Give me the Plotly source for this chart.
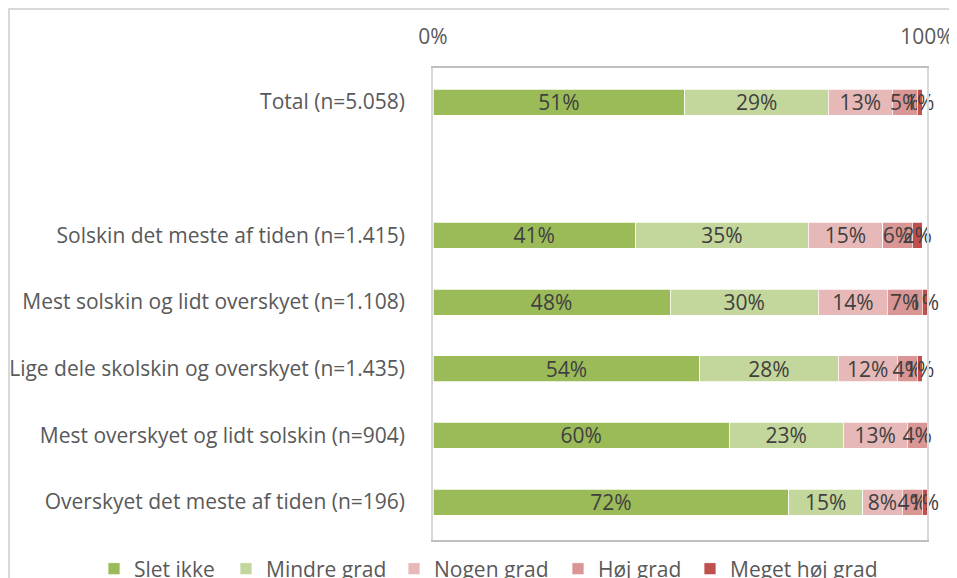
import plotly.graph_objects as go

categories = [
    "Total (n=5.058)",
    " ",
    "Solskin det meste af tiden (n=1.415)",
    "Mest solskin og lidt overskyet (n=1.108)",
    "Lige dele skolskin og overskyet (n=1.435)",
    "Mest overskyet og lidt solskin (n=904)",
    "Overskyet det meste af tiden (n=196)",
]
series_names = ["Slet ikke", "Mindre grad", "Nogen grad", "Høj grad", "Meget høj grad"]
slet_ikke = [51, None, 41, 48, 54, 60, 72]
mindre_grad = [29, None, 35, 30, 28, 23, 15]
nogen_grad = [13, None, 15, 14, 12, 13, 8]
hoej_grad = [5, None, 6, 7, 4, 4, 4]
meget_hoej_grad = [1, None, 2, 1, 1, 0.4, 1]
tick_vals = [0, 100]
tick_text = ["0%", "100%"]

colors = ["#9BBB59", "#C3D69B", "#E6B9B8", "#D99694", "#C0504D"]
series = [slet_ikke, mindre_grad, nogen_grad, hoej_grad, meget_hoej_grad]

FONT = "Open Sans, Noto Sans, sans-serif"
FS = 21

# page has an 8px body margin: figure origin sits at page (8, 8)
OFF = 8
W, H = 957 - OFF, 578 - OFF
# plot area in page pixels
PX0, PX1, PY0, PY1 = 433, 927, 68, 540
L, R, T, B = PX0 - OFF, W - (PX1 - OFF), PY0 - OFF, H - (PY1 - OFF)
pw, ph = W - L - R, H - T - B

def px_x(x):  # page px -> paper
    return (x - OFF - L) / pw

def px_y(y):
    return (H - B - (y - OFF)) / ph

legend_text_starts = [134, 266, 434, 598, 730]
legend_ids = ["legend", "legend2", "legend3", "legend4", "legend5"]

fig = go.Figure()
for si, (name, vals, col) in enumerate(zip(series_names, series, colors)):
    texts = []
    for i, v in enumerate(vals):
        if v is None or v < 0.5:
            texts.append("")
        else:
            texts.append(f"{round(v)}%")
    fig.add_trace(go.Bar(
        name=name, y=categories, x=vals, orientation="h",
        marker=dict(color=col, line=dict(color="white", width=0.75)),
        text=texts, textposition="inside", insidetextanchor="middle", textangle=0,
        textfont=dict(color="#404040", size=FS, family=FONT),
        constraintext="none", cliponaxis=False,
        hoverinfo="skip", legend=legend_ids[si],
    ))

legends = {}
for lid, tx in zip(legend_ids, legend_text_starts):
    legends[lid] = dict(orientation="h", x=px_x(tx - 40), xanchor="left", y=px_y(569), yanchor="middle",
                        font=dict(size=FS, color="#595959", family=FONT), itemwidth=30,
                        bgcolor="rgba(0,0,0,0)")

fig.update_layout(
    width=W, height=H,
    margin=dict(l=L, r=R, t=T, b=B, pad=0, autoexpand=False),
    barmode="stack", bargap=0.61,
    paper_bgcolor="white", plot_bgcolor="white",
    font=dict(family=FONT, color="#595959", size=FS),
    uniformtext=dict(minsize=FS, mode="show"),
    showlegend=True,
    xaxis=dict(side="top", range=[0, 100], tickvals=tick_vals, ticktext=tick_text,
               showgrid=False, zeroline=False, showline=True, linecolor="#BFBFBF", linewidth=1.5,
               mirror=True, ticks="", tickfont=dict(size=FS, color="#595959"), ticklabelstandoff=14,
               fixedrange=True),
    yaxis=dict(categoryorder="array", categoryarray=categories, range=[6.57, -0.51],
               showgrid=False, zeroline=False, showline=True, linecolor="#D9D9D9", linewidth=1.5,
               mirror=True, ticks="", tickfont=dict(size=FS, color="#595959"), ticklabelstandoff=22),
    **legends,
)

# outer chart frame (light gray)
fig.add_shape(type="line", xref="paper", yref="paper", x0=px_x(9), x1=px_x(9), y0=px_y(8), y1=px_y(620),
              line=dict(color="#D9D9D9", width=2))
fig.add_shape(type="line", xref="paper", yref="paper", x0=px_x(8), x1=px_x(1000), y0=px_y(9), y1=px_y(9),
              line=dict(color="#D9D9D9", width=2))

fig.write_html("out.html")
